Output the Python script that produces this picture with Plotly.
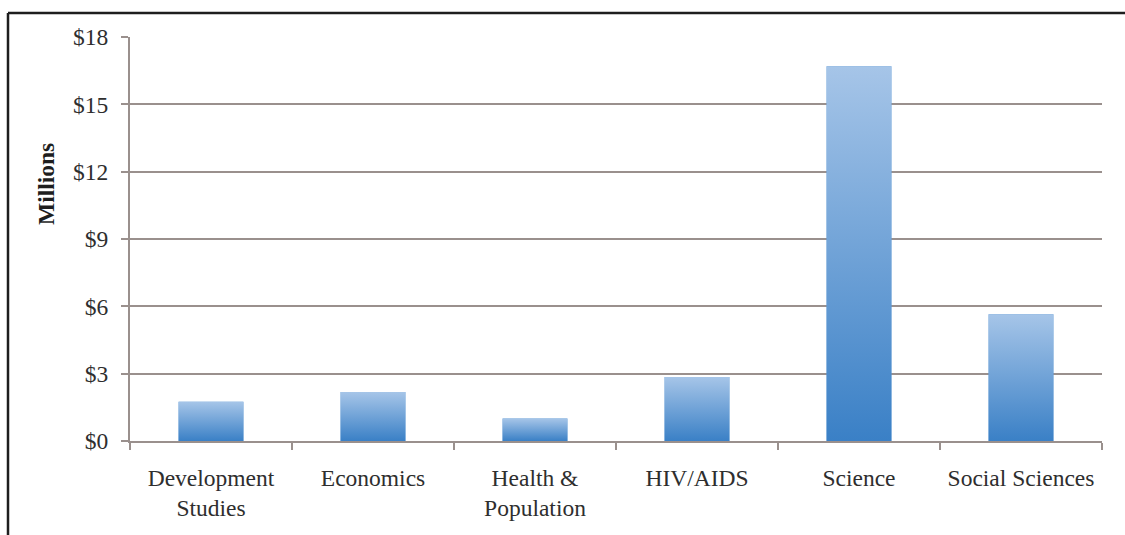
import plotly.graph_objects as go

# Funding by field, in millions of dollars
categories = ["Development<br>Studies", "Economics", "Health &<br>Population",
              "HIV/AIDS", "Science", "Social Sciences"]
funding_millions = [1.75, 2.18, 1.0, 2.85, 16.7, 5.65]
y_ticks = [0, 3, 6, 9, 12, 15, 18]
y_tick_labels = ["$0", "$3", "$6", "$9", "$12", "$15", "$18"]

W, H = 1125, 535
M_L, M_R, M_T, M_B = 130, 23, 37, 94
PLOT_W = W - M_L - M_R
PLOT_H = H - M_T - M_B

BAR_W = 0.4
GRID = "#9a908d"
TEXT = "#2e2e2e"
FONT = "Liberation Serif, Times New Roman, serif"
FS = 23.5

fig = go.Figure()

positions = list(range(len(categories)))

# Base bars
fig.add_trace(go.Bar(
    x=positions, y=funding_millions, width=BAR_W,
    marker=dict(color="#5b98d4", line=dict(width=0)),
    hovertemplate="%{y:$.2f}M<extra></extra>",
    showlegend=False,
))

# Vertical gradient overlay on each bar (light at top, deeper blue at base)
for i, v in zip(positions, funding_millions):
    x0, x1 = i - BAR_W / 2, i + BAR_W / 2
    fig.add_trace(go.Scatter(
        x=[x0, x1, x1, x0, x0], y=[0, 0, v, v, 0],
        mode="lines", line=dict(width=0), fill="toself",
        fillgradient=dict(type="vertical",
                          colorscale=[[0, "#3a80c6"], [1, "#a6c5e8"]]),
        hoverinfo="skip", showlegend=False,
    ))

# Category labels on an overlaid axis so ticks can sit on the boundaries
fig.add_trace(go.Scatter(x=positions, y=[None] * len(positions), xaxis="x2",
                         showlegend=False, hoverinfo="skip"))

boundaries = [p - 0.5 for p in positions] + [positions[-1] + 0.5]

fig.update_layout(
    width=W, height=H,
    margin=dict(l=M_L, r=M_R, t=M_T, b=M_B),
    paper_bgcolor="white", plot_bgcolor="white",
    font=dict(family=FONT, size=FS, color=TEXT),
    xaxis=dict(
        range=[-0.5, len(categories) - 0.5],
        tickvals=boundaries, ticktext=[""] * len(boundaries),
        ticks="outside", ticklen=7, tickwidth=2, tickcolor=GRID,
        showline=True, linecolor=GRID, linewidth=2,
        showgrid=False, zeroline=False, fixedrange=True,
    ),
    xaxis2=dict(
        overlaying="x", matches="x", anchor="y",
        range=[-0.5, len(categories) - 0.5],
        tickvals=positions, ticktext=categories,
        ticks="", showline=False, showgrid=False, zeroline=False,
        ticklabelstandoff=20, side="bottom",
        tickfont=dict(family=FONT, size=FS, color=TEXT),
    ),
    yaxis=dict(
        range=[0, 18], tickvals=y_ticks, ticktext=y_tick_labels,
        ticks="outside", ticklen=7, tickwidth=2, tickcolor=GRID,
        showline=True, linecolor=GRID, linewidth=2,
        showgrid=True, gridcolor=GRID, gridwidth=2,
        zeroline=False, ticklabelstandoff=8,
        tickfont=dict(family=FONT, size=FS, color=TEXT),
    ),
    bargap=0.6,
)

# Axis title
fig.add_annotation(
    text="<b>Millions</b>", textangle=-90, showarrow=False,
    xref="paper", yref="paper",
    x=(46 - M_L) / PLOT_W, y=(H - M_B - 184) / PLOT_H,
    xanchor="center", yanchor="middle",
    font=dict(family=FONT, size=FS, color="#1e1e1e"),
)

# Frame lines along the top and left edges
frame_x = (8 - M_L) / PLOT_W
frame_top = 1 + (M_T - 13) / PLOT_H
fig.add_shape(type="line", xref="paper", yref="paper",
              x0=frame_x, x1=(W - M_L) / PLOT_W + 0.01, y0=frame_top, y1=frame_top,
              line=dict(color="#1e1e1e", width=2.5))
fig.add_shape(type="line", xref="paper", yref="paper",
              x0=frame_x, x1=frame_x, y0=frame_top, y1=-(M_B + 5) / PLOT_H,
              line=dict(color="#1e1e1e", width=2.5))

fig.write_html("out.html")
